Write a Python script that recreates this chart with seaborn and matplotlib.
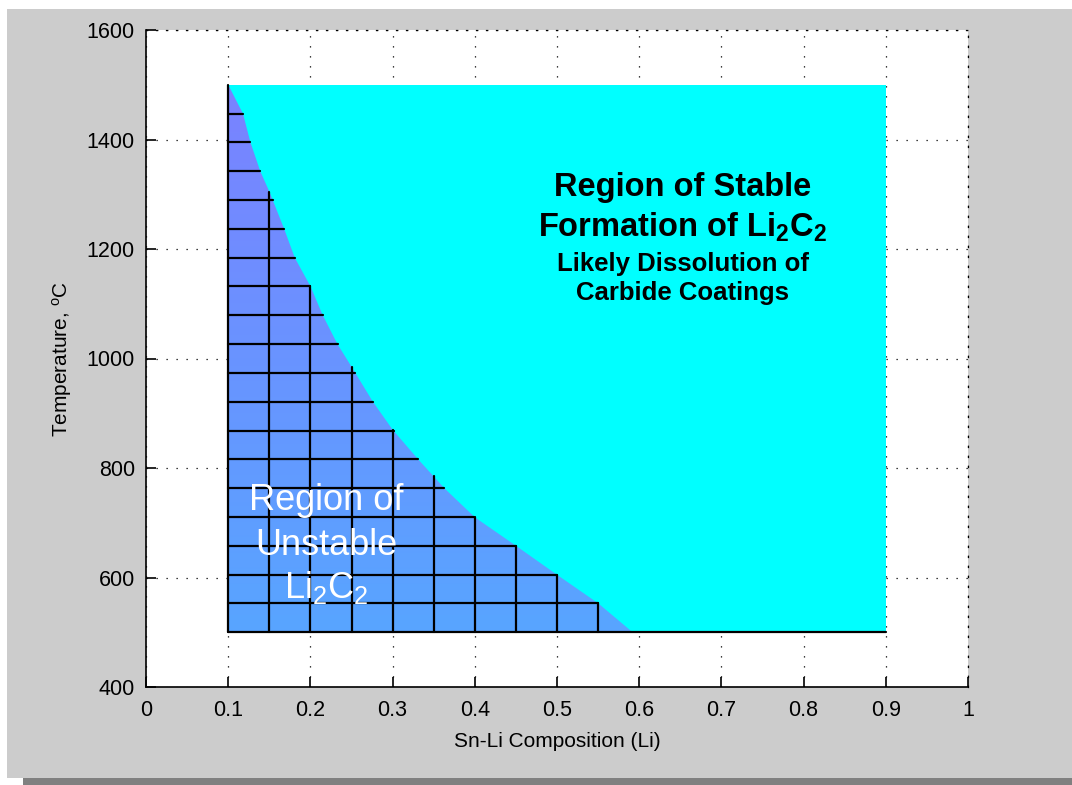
import numpy as np
import pandas as pd
import matplotlib
matplotlib.use("Agg")
import matplotlib.pyplot as plt
import seaborn as sns
from matplotlib.patches import Rectangle, Polygon
from matplotlib import font_manager

# ---- data ----
# boundary between unstable and stable Li2C2 (composition, temperature)
boundary_comp = [0.100, 0.118, 0.127, 0.139, 0.150, 0.168, 0.181, 0.200, 0.215,
                 0.233, 0.250, 0.276, 0.300, 0.331, 0.363, 0.400, 0.450, 0.500,
                 0.550, 0.592]
boundary_temp = [1500, 1447, 1395, 1342, 1305, 1237, 1184, 1132, 1079,
                 1026, 985, 921, 870, 816, 763, 710, 658, 605,
                 553, 500]
# stable region rectangle
stable_comp = [0.1, 0.9]
stable_temp = [500, 1500]
# mesh lines inside the unstable region
mesh_comp = [0.10, 0.15, 0.20, 0.25, 0.30, 0.35, 0.40, 0.45, 0.50, 0.55]
mesh_temp = [500, 553, 605, 658, 711, 763, 816, 868, 921, 974, 1026, 1079,
             1132, 1184, 1237, 1289, 1342, 1395, 1447, 1500]
x_ticks = [0, 0.1, 0.2, 0.3, 0.4, 0.5, 0.6, 0.7, 0.8, 0.9, 1.0]
x_tick_labels = ["0", "0.1", "0.2", "0.3", "0.4", "0.5", "0.6", "0.7", "0.8", "0.9", "1"]
y_ticks = [400, 600, 800, 1000, 1200, 1400, 1600]
y_tick_labels = ["400", "600", "800", "1000", "1200", "1400", "1600"]

sns.set_style("white")
plt.rcParams["font.family"] = ["Liberation Sans", "DejaVu Sans"]
plt.rcParams["mathtext.fontset"] = "custom"
plt.rcParams["mathtext.rm"] = "Liberation Sans"
plt.rcParams["mathtext.it"] = "Liberation Sans"
plt.rcParams["mathtext.bf"] = "Liberation Sans:bold"

installed = {f.name for f in font_manager.fontManager.ttflist}
tick_family = ["Liberation Sans Narrow"] if "Liberation Sans Narrow" in installed else ["Liberation Sans"]
tick_size = 17 if "Liberation Sans Narrow" in installed else 15.5

W, H = 1072, 785
fig = plt.figure(figsize=(W / 100, H / 100), dpi=100, facecolor="white")
# gray window panel and shadow
fig.add_artist(Rectangle((7 / W, (H - 778) / H), (W - 7) / W, (778 - 9) / H,
                         transform=fig.transFigure, facecolor="#cccccc",
                         edgecolor="none", zorder=-10))
fig.add_artist(Rectangle((23 / W, 0), (W - 23) / W, (H - 778) / H,
                         transform=fig.transFigure, facecolor="#808080",
                         edgecolor="none", zorder=-10))

ax = fig.add_axes([146 / W, (H - 687) / H, 822 / W, 657 / H])
ax.set_facecolor("white")

# stable region
ax.add_patch(Rectangle((stable_comp[0], stable_temp[0]),
                       stable_comp[1] - stable_comp[0],
                       stable_temp[1] - stable_temp[0],
                       facecolor="#00ffff", edgecolor="none", zorder=1))

# unstable region with vertical gradient
verts = [(boundary_comp[0], stable_temp[0])] + list(zip(boundary_comp, boundary_temp))
poly = Polygon(verts, closed=True, facecolor="none", edgecolor="none")
ax.add_patch(poly)
t = np.linspace(0, 1, 256)[:, None]
bottom_c = np.array([88, 165, 255]) / 255
top_c = np.array([122, 130, 255]) / 255
grad = bottom_c[None, None, :] * (1 - t[..., None]) + top_c[None, None, :] * t[..., None]
grad = np.repeat(grad, 2, axis=1)
im = ax.imshow(grad, extent=[min(boundary_comp), max(boundary_comp),
                             min(boundary_temp), max(boundary_temp)],
               origin="lower", aspect="auto", zorder=2, interpolation="bilinear")
im.set_clip_path(poly)

# mesh lines
rev_t = boundary_temp[::-1]
rev_c = boundary_comp[::-1]
rows = []
seg = 0
for T in mesh_temp:
    if T == stable_temp[0]:
        xe = stable_comp[1]
    else:
        xe = float(np.interp(T, rev_t, rev_c))
    rows += [(seg, stable_comp[0], T), (seg, xe, T)]
    seg += 1
for xc in mesh_comp:
    te = float(np.interp(xc, boundary_comp, boundary_temp))
    rows += [(seg, xc, stable_temp[0]), (seg, xc, te)]
    seg += 1
df = pd.DataFrame(rows, columns=["seg", "comp", "temp"])
sns.lineplot(data=df, x="comp", y="temp", units="seg", estimator=None,
             sort=False, color="black", linewidth=1.6, ax=ax, zorder=4,
             legend=False)

ax.set_xlim(0, 1)
ax.set_ylim(400, 1600)
ax.set_xticks(x_ticks)
ax.set_xticklabels(x_tick_labels)
ax.set_yticks(y_ticks)
ax.set_yticklabels(y_tick_labels)
ax.grid(True, linestyle=(0, (1, 7)), color="black", linewidth=0.9)
ax.set_axisbelow(True)
for s in ["left", "bottom"]:
    ax.spines[s].set_color("black")
    ax.spines[s].set_linewidth(1.2)
for s in ["top", "right"]:
    ax.spines[s].set_color("black")
    ax.spines[s].set_linewidth(0.9)
    ax.spines[s].set_linestyle((0, (1, 7)))
ax.tick_params(direction="in", length=7, width=1.2, top=False, right=False,
               left=True, bottom=True, colors="black")
ax.tick_params(axis="x", pad=9)
ax.tick_params(axis="y", pad=8)
for lab in ax.get_xticklabels() + ax.get_yticklabels():
    lab.set_family(tick_family)
    lab.set_fontsize(tick_size)
    lab.set_color("black")

ax.set_xlabel("Sn-Li Composition (Li)", fontsize=15, color="black",
              family=tick_family)
ax.set_ylabel("Temperature, $^{\\rm o}$C", fontsize=15, color="black",
              family=tick_family)
ax.xaxis.set_label_coords(0.5, -0.068)
ax.yaxis.set_label_coords(-0.088, 0.5)

# annotations
ax.text(0.653, 1313, "Region of Stable", ha="center", va="center",
        fontsize=23.5, fontweight="bold", color="black", zorder=6)
ax.text(0.653, 1240, "Formation of Li$_\\mathbf{2}$C$_\\mathbf{2}$", ha="center",
        va="center", fontsize=23.5, fontweight="bold", color="black", zorder=6)
ax.text(0.653, 1173, "Likely Dissolution of", ha="center", va="center",
        fontsize=18.5, fontweight="bold", color="black", zorder=6)
ax.text(0.653, 1120, "Carbide Coatings", ha="center", va="center",
        fontsize=18.5, fontweight="bold", color="black", zorder=6)

ax.text(0.219, 741, "Region of", ha="center", va="center",
        fontsize=26, color="white", zorder=6)
ax.text(0.219, 659, "Unstable", ha="center", va="center",
        fontsize=26, color="white", zorder=6)
ax.text(0.219, 581, "Li$_2$C$_2$", ha="center", va="center",
        fontsize=26, color="white", zorder=6)

fig.savefig("out.png", dpi=100, facecolor="white")
